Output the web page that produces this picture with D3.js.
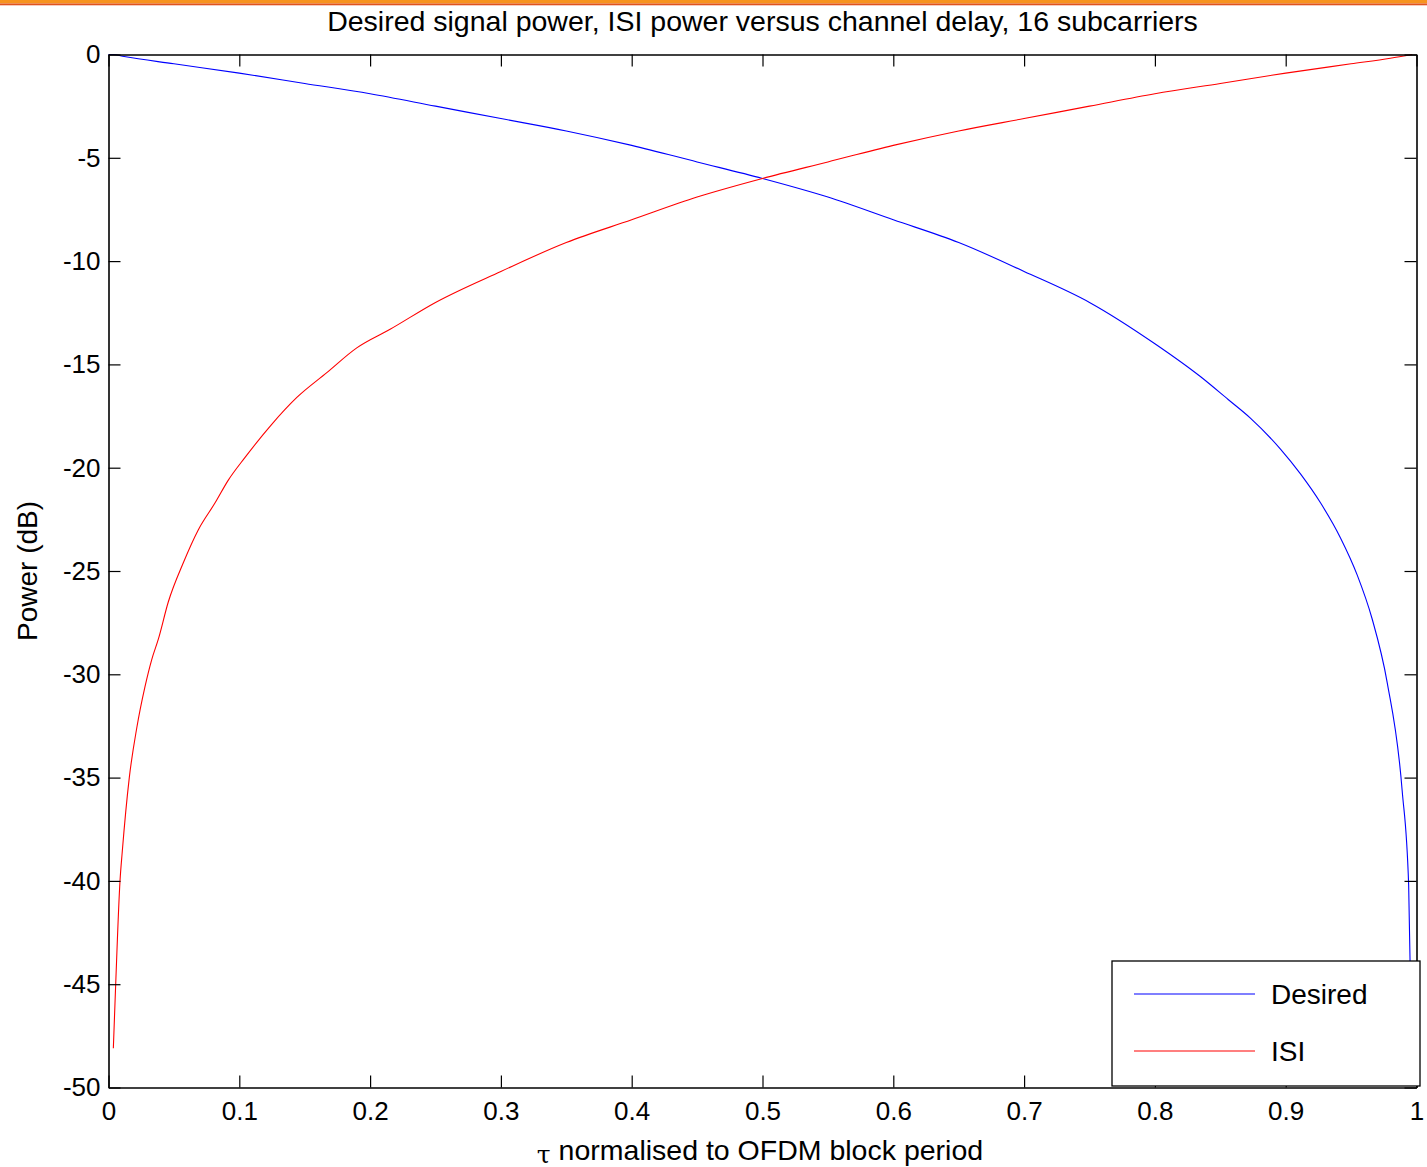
<!DOCTYPE html>
<html>
<head>
<meta charset="utf-8">
<script src="https://cdn.jsdelivr.net/npm/d3@7"></script>
<style>
  body { margin: 0; background: white; }
  text { font-family: "Liberation Sans", Arial, sans-serif; fill: #000; }
</style>
</head>
<body>
<div id="chart"></div>
<script>
// values
let isiTau = [0.0037, 0.0055, 0.0088, 0.0105, 0.0159, 0.0216, 0.0279, 0.033, 0.0381, 0.0457, 0.0572, 0.0687, 0.0815,
    0.0916, 0.1044, 0.1248, 0.144, 0.1669, 0.1898, 0.2153, 0.25, 0.3, 0.35, 0.4, 0.45, 0.5, 0.55, 0.6, 0.65, 0.7,
    0.75, 0.8, 0.85, 0.9, 0.95, 0.98, 0.9967]
let isiDb = [-48.1, -45.0, -40.0, -38.6, -35.0, -32.6, -30.6, -29.3, -28.3, -26.5, -24.6, -23.0, -21.7,
    -20.6, -19.5, -17.9, -16.6, -15.4, -14.2, -13.3, -12.0, -10.5, -9.1, -8.0, -6.9, -6.0, -5.2, -4.4, -3.7, -3.1,
    -2.5, -1.9, -1.4, -0.9, -0.45, -0.18, 0]

let desTau = [0, 0.0037, 0.012, 0.05, 0.1, 0.15, 0.2, 0.25, 0.3, 0.35, 0.4, 0.45, 0.5, 0.55, 0.6, 0.65, 0.7, 0.75, 0.8,
    0.835, 0.856, 0.873, 0.896, 0.9113, 0.9266, 0.9419, 0.9547, 0.966, 0.9776, 0.989, 0.994, 0.9963]
let desDb = [0, 0, -0.1, -0.45, -0.9, -1.4, -1.9, -2.5, -3.1, -3.7, -4.4, -5.2, -6.0, -6.9, -8.0, -9.1, -10.5, -12.0, -14.0,
    -15.6, -16.7, -17.6, -19.1, -20.3, -21.7, -23.4, -25.2, -27.3, -30.4, -35.6, -40.2, -48.1]

let xTicks = [0, 0.1, 0.2, 0.3, 0.4, 0.5, 0.6, 0.7, 0.8, 0.9, 1]
let xTickLabels = ["0", "0.1", "0.2", "0.3", "0.4", "0.5", "0.6", "0.7", "0.8", "0.9", "1"]
let yTicks = [0, -5, -10, -15, -20, -25, -30, -35, -40, -45, -50]
let yTickLabels = ["0", "-5", "-10", "-15", "-20", "-25", "-30", "-35", "-40", "-45", "-50"]

let seriesNames = ["Desired", "ISI"]
let seriesColors = ["#0000ff", "#ff0000"]

let W = 1427, H = 1167
let pLeft = 108.5, pRight = 1416.5, pTop = 54.5, pBottom = 1087.5

let svg = d3.select("#chart").append("svg")
    .attr("width", W)
    .attr("height", H)
    .style("display", "block")

// orange strip at the top of the page
svg.append("rect").attr("x", 0).attr("y", 0).attr("width", W).attr("height", 3.5).attr("fill", "#f7931e")
svg.append("rect").attr("x", 0).attr("y", 3.5).attr("width", W).attr("height", 1.8).attr("fill", "#e0531f")

let x = d3.scaleLinear().domain([0, 1]).range([pLeft, pRight])
let y = d3.scaleLinear().domain([-50, 0]).range([pBottom, pTop])

// curves
let line = d3.line()
    .x(d => x(d[0]))
    .y(d => y(d[1]))
    .curve(d3.curveMonotoneX)

let series = [
    desTau.map((t, i) => [t, desDb[i]]),
    isiTau.map((t, i) => [t, isiDb[i]])
]

svg.append("g").selectAll("path")
    .data(series)
    .join("path")
    .attr("d", d => line(d))
    .attr("fill", "none")
    .attr("stroke", (d, i) => seriesColors[i])
    .attr("stroke-width", 1.1)

// axes, ticks pointing inwards on all four sides
let tick = 12
svg.append("g")
    .attr("transform", `translate(0,${pBottom})`)
    .call(d3.axisBottom(x).tickValues(xTicks).tickSizeInner(-tick).tickSizeOuter(0).tickPadding(14)
        .tickFormat((d, i) => xTickLabels[i]))
svg.append("g")
    .attr("transform", `translate(${pLeft},0)`)
    .call(d3.axisLeft(y).tickValues(yTicks).tickSizeInner(-tick).tickSizeOuter(0).tickPadding(8)
        .tickFormat((d, i) => yTickLabels[i]))
svg.append("g")
    .attr("transform", `translate(0,${pTop})`)
    .call(d3.axisTop(x).tickValues(xTicks).tickSizeInner(-tick).tickSizeOuter(0).tickFormat(""))
svg.append("g")
    .attr("transform", `translate(${pRight},0)`)
    .call(d3.axisRight(y).tickValues(yTicks).tickSizeInner(-tick).tickSizeOuter(0).tickFormat(""))

svg.selectAll(".tick text").style("font-size", "26px").attr("fill", "#000")
svg.selectAll(".tick line").attr("stroke", "#000").attr("stroke-width", 1.2)
svg.selectAll(".domain").attr("stroke", "#000").attr("stroke-width", 1.6)

// title and axis labels
svg.append("text")
    .attr("x", (pLeft + pRight) / 2)
    .attr("y", 30.5)
    .attr("text-anchor", "middle")
    .style("font-size", "28.5px")
    .text("Desired signal power, ISI power versus channel delay, 16 subcarriers")

let xl = svg.append("text")
    .attr("x", 760)
    .attr("y", 1160)
    .attr("text-anchor", "middle")
    .style("font-size", "28.5px")
xl.append("tspan").attr("dy", 2.5).style("font-family", "DejaVu Serif").style("font-size", "25px").text("τ")
xl.append("tspan").attr("dy", -2.5).text(" normalised to OFDM block period")

svg.append("text")
    .attr("transform", `translate(37,${(pTop + pBottom) / 2}) rotate(-90)`)
    .attr("text-anchor", "middle")
    .style("font-size", "28px")
    .text("Power (dB)")

// legend
let lg = svg.append("g")
lg.append("rect")
    .attr("x", 1112).attr("y", 961).attr("width", 308).attr("height", 125)
    .attr("fill", "white").attr("stroke", "#000").attr("stroke-width", 1.3)
let rows = lg.selectAll("g.row")
    .data(seriesNames)
    .join("g").attr("class", "row")
    .attr("transform", (d, i) => `translate(0,${994 + i * 57})`)
rows.append("line")
    .attr("x1", 1134).attr("x2", 1255)
    .attr("stroke", (d, i) => seriesColors[i]).attr("stroke-width", 1.1)
rows.append("text")
    .attr("x", 1271).attr("dy", "0.36em")
    .style("font-size", "28px")
    .text(d => d)
</script>
</body>
</html>
